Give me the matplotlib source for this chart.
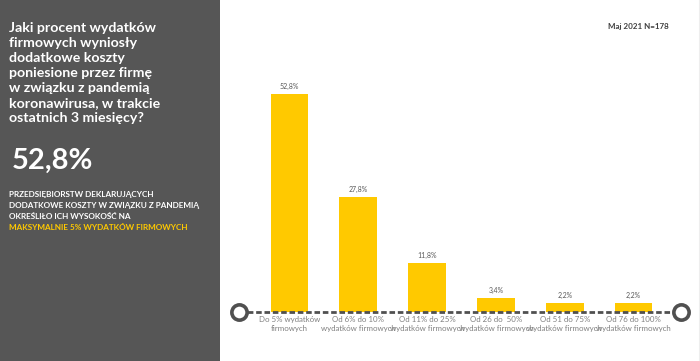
import matplotlib
matplotlib.use("Agg")
import matplotlib.pyplot as plt
from matplotlib.patches import Rectangle

plt.rcParams['font.family'] = ['Lato', 'DejaVu Sans']

categories = [
    "Do 5% wydatków\nfirmowych",
    "Od 6% do 10%\nwydatków firmowych",
    "Od 11% do 25%\nwydatków firmowych",
    "Od 26 do  50%\nwydatków firmowych",
    "Od 51 do 75%\nwydatków firmowych",
    "Od 76 do 100%\nwydatków firmowych",
]
values = [52.8, 27.8, 11.8, 3.4, 2.2, 2.2]
value_labels = ["52,8%", "27,8%", "11,8%", "3,4%", "2,2%", "2,2%"]

title_lines = ("Jaki procent wydatków\nfirmowych wyniosły\ndodatkowe koszty\n"
               "poniesione przez firmę\nw związku z pandemią\n"
               "koronawirusa, w trakcie\nostatnich 3 miesięcy?")
big_number = "52,8%"
sub_lines = ["PRZEDSIĘBIORSTW DEKLARUJĄCYCH",
             "DODATKOWE KOSZTY W ZWIĄZKU Z PANDEMIĄ",
             "OKREŚLIŁO ICH WYSOKOŚĆ NA"]
sub_highlight = "MAKSYMALNIE 5% WYDATKÓW FIRMOWYCH"
note = "Maj 2021 N=178"

YELLOW = "#FFC900"
PANEL = "#565656"
W, H = 700, 361

fig = plt.figure(figsize=(W / 100, H / 100), dpi=100)
fig.patch.set_facecolor("white")

# left dark panel
fig.patches.append(Rectangle((0, 0), 220 / W, 1, transform=fig.transFigure,
                             facecolor=PANEL, edgecolor="none", zorder=0))
# thin right line
fig.add_artist(plt.Line2D([699 / W, 699 / W], [0, 1], transform=fig.transFigure,
                          color="#eeeeee", lw=0.8))

fig.text(9 / W, 1 - 22 / H, title_lines, color="white", fontsize=10.2,
         fontweight="bold", va="top", ha="left", linespacing=1.3)
fig.text(12 / W, 1 - 169 / H, big_number, color="white", fontsize=21,
         fontweight="bold", va="baseline", ha="left")
ys = [197, 208, 219]
for y, line in zip(ys, sub_lines):
    fig.text(9 / W, 1 - y / H, line, color="white", fontsize=5.9,
             fontweight="bold", va="baseline", ha="left")
fig.text(9 / W, 1 - 230 / H, sub_highlight, color=YELLOW, fontsize=5.9,
         fontweight="bold", va="baseline", ha="left")

fig.text(638 / W, 1 - 26 / H, note, color="#404040", fontsize=5.8,
         fontweight="bold", va="center", ha="center")

# bar axes
x0_px, x1_px = 239, 681
base_px, top_px = 312, 50
first_c, step = 289.5, 68.8
ax = fig.add_axes([x0_px / W, (H - base_px) / H, (x1_px - x0_px) / W,
                   (base_px - top_px) / H])
xmin = (x0_px - first_c) / step
xmax = (x1_px - first_c) / step
ax.set_xlim(xmin, xmax)
ax.set_ylim(0, (base_px - top_px) / 4.12)
ax.patch.set_alpha(0)
for s in ax.spines.values():
    s.set_visible(False)
ax.set_yticks([])

xs = list(range(len(values)))
bars = ax.bar(xs, values, width=0.55, color=YELLOW, zorder=2)
for b, lab in zip(bars, value_labels):
    ax.annotate(lab, (b.get_x() + b.get_width() / 2, b.get_height()),
                xytext=(0, 3), textcoords="offset points", ha="center",
                va="bottom", fontsize=5, color="#595959")

ax.set_xticks(xs)
ax.set_xticklabels(categories, fontsize=5.7, color="#808080", linespacing=1.25)
ax.tick_params(axis="x", length=0, pad=3)

ax.plot([xmin, xmax], [0, 0], color="#505050", lw=2, ls=(0, (2, 1)),
        clip_on=False, zorder=3)
ax.plot([xmin, xmax], [0, 0], "o", ms=11, mfc="white", mec="#505050",
        mew=2.6, clip_on=False, zorder=4)

fig.savefig("out.png", dpi=100)
